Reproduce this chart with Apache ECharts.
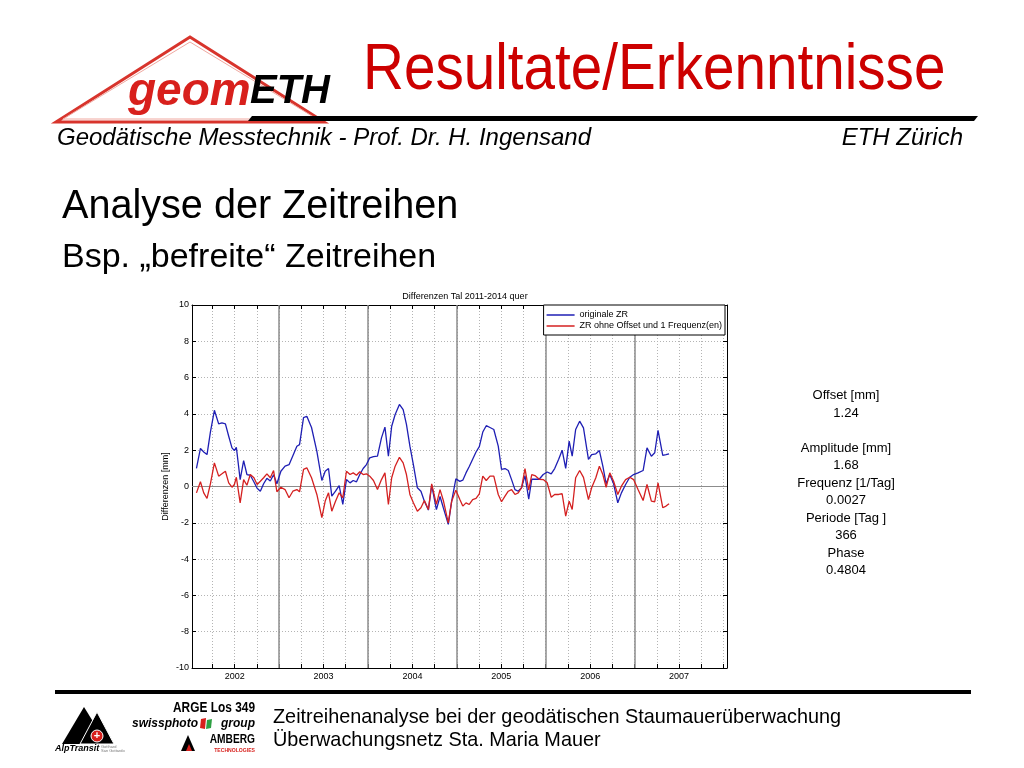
<!DOCTYPE html>
<html>
<head>
<meta charset="utf-8">
<script src="https://cdn.jsdelivr.net/npm/echarts@6/dist/echarts.min.js"></script>
<style>
html,body{margin:0;padding:0;background:#fff;}
#chart{width:1024px;height:768px;}
</style>
</head>
<body>
<div id="chart"></div>
<script>
// ---- data (decimal years) ----
const years = [
2001.570,2001.615,2001.652,2001.689,2001.727,2001.772,2001.820,2001.857,2001.896,2001.933,
2001.970,2001.997,2002.019,2002.062,2002.101,2002.138,2002.176,2002.217,2002.253,2002.289,
2002.326,2002.363,2002.401,2002.438,2002.475,2002.520,2002.567,2002.612,2002.655,2002.700,
2002.730,2002.775,2002.812,2002.865,2002.925,2002.981,2003.019,2003.056,2003.093,2003.135,
2003.176,2003.217,2003.258,2003.298,2003.334,2003.371,2003.408,2003.446,2003.483,2003.520,
2003.562,2003.607,2003.652,2003.691,2003.730,2003.767,2003.806,2003.854,2003.896,2003.933,
2003.972,2004.011,2004.056,2004.096,2004.135,2004.180,2004.217,2004.270,2004.311,2004.348,
2004.404,2004.442,2004.489,2004.534,2004.567,2004.603,2004.640,2004.678,2004.716,2004.753,
2004.792,2004.831,2004.873,2004.916,2004.966,2005.003,2005.042,2005.079,2005.116,2005.154,
2005.191,2005.228,2005.267,2005.309,2005.343,2005.379,2005.427,2005.472,2005.517,2005.562,
2005.601,2005.646,2005.685,2005.725,2005.764,2005.798,2005.837,2005.882,2005.925,2005.981,
2006.017,2006.064,2006.104,2006.143,2006.180,2006.221,2006.264,2006.311,2006.352,2006.399,
2006.446,2006.489,2006.539,2006.596,2006.640,2006.689,2006.727,2006.764,2006.817,2006.854,
2006.888
];
const originalZR = [
1.0,2.1,1.9,1.76,3.0,4.2,3.45,3.5,3.45,2.77,
2.13,1.98,2.16,0.38,1.43,0.66,0.62,0.25,-0.1,-0.26,
0.15,0.45,0.3,0.65,0.15,0.84,1.12,1.2,1.7,2.22,
2.31,3.79,3.87,3.25,1.94,0.33,0.84,0.99,-0.53,-0.26,
0.05,-0.99,0.38,0.2,0.33,0.26,0.66,0.99,1.21,1.58,
1.65,1.67,2.68,3.27,1.67,3.32,3.97,4.52,4.24,3.42,
2.22,1.21,-0.07,-0.26,-0.81,-1.3,0.07,-1.27,-0.55,-1.17,
-2.09,-0.81,0.42,0.28,0.35,0.75,1.1,1.5,1.9,2.2,
3.0,3.35,3.25,3.14,2.22,0.94,0.99,0.88,0.38,-0.17,
-0.26,-0.07,0.6,-0.7,0.4,0.4,0.4,0.66,0.8,0.7,
0.99,1.5,2.0,1.0,2.5,1.67,3.14,3.6,3.23,1.49,
1.76,1.8,1.98,1.12,0.15,0.66,0.15,-0.9,-0.35,0.11,
0.51,0.66,0.75,0.88,2.13,1.67,1.86,3.09,1.72,1.76,
1.8
];
const residualZR = [
-0.35,0.26,-0.35,-0.66,0.15,1.3,0.57,0.7,0.84,0.2,
-0.04,0.11,0.51,-0.9,0.38,0.07,0.66,0.48,0.11,0.29,
0.48,0.7,0.48,0.88,-0.29,-0.04,-0.17,-0.62,-0.26,-0.17,
-0.29,0.94,1.03,0.48,-0.44,-1.72,-0.8,-0.35,-1.36,-0.81,
-0.35,-0.62,0.84,0.66,0.75,0.62,0.81,0.66,0.7,0.57,
0.33,-0.17,0.38,0.75,-0.99,0.48,1.12,1.61,1.3,0.66,
-0.44,-0.9,-1.36,-1.17,-0.77,-1.27,0.15,-0.99,-0.17,-0.77,
-2.0,-0.81,-0.2,-0.72,-1.08,-0.9,-0.99,-0.72,-0.66,-0.4,
0.57,0.33,0.57,0.57,-0.44,-0.84,-0.53,-0.26,-0.17,-0.44,
-0.35,-0.07,0.99,-0.2,0.66,0.6,0.4,0.38,0.2,-0.59,
-0.44,-0.44,-0.4,-1.63,-0.81,-1.27,0.48,0.88,0.5,-0.72,
-0.07,0.48,1.12,0.66,-0.04,0.75,0.29,-0.44,0.02,0.38,
0.51,0.38,-0.17,-0.77,0.11,-0.81,-0.84,0.2,-1.17,-1.08,
-0.95
];
const yearLabels = [2002, 2003, 2004, 2005, 2006, 2007];
const quarterTicks = [2001.75,2002,2002.25,2002.5,2002.75,2003,2003.25,2003.5,2003.75,2004,2004.25,2004.5,2004.75,
  2005,2005.25,2005.5,2005.75,2006,2006.25,2006.5,2006.75,2007,2007.25,2007.5];
const markerYears = [2002.5, 2003.5, 2004.5, 2005.5, 2006.5];
const seriesNames = ['originale ZR', 'ZR ohne Offset und 1 Frequenz(en)'];
const statsLines = ['Offset [mm]', '1.24', '', 'Amplitude [mm]', '1.68', 'Frequenz [1/Tag]', '0.0027',
  'Periode [Tag ]', '366', 'Phase', '0.4804'];

const FONT = 'Liberation Sans';
const chart = echarts.init(document.getElementById('chart'));

const pairs = (xs, ys) => xs.map((x, i) => [x, ys[i]]);
const gridLine = { show: true, lineStyle: { color: '#b4b4b4', type: [1, 2], width: 1 } };
const frameLine = { show: true, onZero: false, lineStyle: { color: '#000', width: 1 } };

const option = {
  animation: false,
  backgroundColor: '#ffffff',
  textStyle: { fontFamily: FONT },
  title: [{
    text: 'Differenzen Tal 2011-2014 quer',
    left: 460, top: 287, textAlign: 'center',
    textStyle: { fontSize: 9, fontWeight: 'normal', color: '#000', fontFamily: FONT }
  }],
  grid: { left: 192, right: 297, top: 305, bottom: 100, containLabel: false },
  legend: {
    right: 299, top: 305, orient: 'vertical',
    backgroundColor: '#fff', borderColor: '#000', borderWidth: 1,
    padding: [5, 3, 4, 3], itemGap: 1,
    itemWidth: 28, itemHeight: 1.5, icon: 'rect',
    textStyle: { fontSize: 9, color: '#000', lineHeight: 10, fontFamily: FONT },
    data: seriesNames
  },
  xAxis: [{
    type: 'value', min: 2001.52, max: 2007.54, position: 'bottom',
    axisLine: frameLine,
    axisTick: { show: true, inside: true, length: 4, customValues: quarterTicks, lineStyle: { color: '#000' } },
    axisLabel: { show: true, customValues: yearLabels, margin: 4, fontSize: 9, color: '#000',
      formatter: v => String(Math.round(v)) },
    splitLine: gridLine
  }, {
    type: 'value', min: 2001.52, max: 2007.54, position: 'top',
    axisLine: frameLine,
    axisTick: { show: true, inside: true, length: 4, customValues: quarterTicks, lineStyle: { color: '#000' } },
    axisLabel: { show: false }, splitLine: { show: false }
  }],
  yAxis: [{
    type: 'value', min: -10, max: 10, interval: 2, position: 'left',
    name: 'Differenzen [mm]', nameLocation: 'middle', nameGap: 22, nameRotate: 90,
    nameMoveOverlap: false,
    nameTextStyle: { fontSize: 9, color: '#000' },
    axisLine: frameLine,
    axisTick: { show: true, inside: true, length: 4, lineStyle: { color: '#000' } },
    axisLabel: { fontSize: 9, color: '#000', margin: 3 },
    splitLine: gridLine
  }, {
    type: 'value', min: -10, max: 10, interval: 2, position: 'right',
    axisLine: frameLine,
    axisTick: { show: true, inside: true, length: 4, lineStyle: { color: '#000' } },
    axisLabel: { show: false }, splitLine: { show: false }
  }],
  series: [{
    name: seriesNames[0], type: 'line', xAxisIndex: 0, yAxisIndex: 0,
    data: pairs(years, originalZR), showSymbol: false, symbol: 'none',
    lineStyle: { color: '#1f1fb4', width: 1.3 }, itemStyle: { color: '#1f1fb4' },
    z: 3,
    markLine: {
      silent: true, symbol: 'none', label: { show: false }, z: 1,
      data: [
        ...markerYears.map(v => ({ xAxis: v, lineStyle: { color: '#8c8c8c', width: 1.5, type: 'solid' } })),
        { yAxis: 0, lineStyle: { color: '#8c8c8c', width: 1.2, type: 'solid' } }
      ]
    }
  }, {
    name: seriesNames[1], type: 'line', xAxisIndex: 0, yAxisIndex: 0,
    data: pairs(years, residualZR), showSymbol: false, symbol: 'none',
    lineStyle: { color: '#d42020', width: 1.3 }, itemStyle: { color: '#d42020' },
    z: 4
  }],
  graphic: [
    // header logo triangle
    { type: 'polygon', shape: { points: [[56,122],[190,37],[324,122]] },
      style: { fill: 'none', stroke: '#d8342c', lineWidth: 3 }, z: 1 },
    { type: 'polygon', shape: { points: [[63,119],[190,42],[317,119]] },
      style: { fill: 'none', stroke: '#f0a8a0', lineWidth: 1 }, z: 1 },
    { type: 'text', x: 128, y: 92, z: 3, style: { text: 'geom', font: 'italic bold 46px "Liberation Sans"',
      fill: '#d8201c', textVerticalAlign: 'middle' } },
    { type: 'text', x: 250, y: 92, z: 3, style: { text: 'ETH', font: 'italic bold 40px "Liberation Sans"',
      fill: '#000', textVerticalAlign: 'middle' } },
    // header black bar
    { type: 'polygon', shape: { points: [[248,121],[252,116],[978,116],[974,121]] },
      style: { fill: '#000' }, z: 2 },
    // slide title
    { type: 'text', x: 363, y: 71, scaleX: 0.885, z: 3, style: { text: 'Resultate/Erkenntnisse',
      font: '64px "Liberation Sans"', fill: '#cc0000', textVerticalAlign: 'middle' } },
    { type: 'text', x: 57, y: 138, z: 3, style: { text: 'Geodätische Messtechnik - Prof. Dr. H. Ingensand',
      font: 'italic 24px "Liberation Sans"', fill: '#000', textVerticalAlign: 'middle' } },
    { type: 'text', x: 963, y: 138, z: 3, style: { text: 'ETH Zürich',
      font: 'italic 24px "Liberation Sans"', fill: '#000', textAlign: 'right', textVerticalAlign: 'middle' } },
    { type: 'text', x: 62, y: 207, z: 3, style: { text: 'Analyse der Zeitreihen',
      font: '40px "Liberation Sans"', fill: '#000', textVerticalAlign: 'middle' }, scaleX: 0.99 },
    { type: 'text', x: 62, y: 258, z: 3, style: { text: 'Bsp. „befreite“ Zeitreihen',
      font: '34px "Liberation Sans"', fill: '#000', textVerticalAlign: 'middle' } },
    // stats block
    { type: 'text', x: 846, y: 387, z: 3, style: { text: statsLines.join('\n'),
      font: '13px "Liberation Sans"', lineHeight: 17.5, fill: '#000', textAlign: 'center' } },
    // footer bar
    { type: 'rect', shape: { x: 55, y: 690, width: 916, height: 4 }, style: { fill: '#000' }, z: 2 },
    { type: 'text', x: 273, y: 717, z: 3, style: { text: 'Zeitreihenanalyse bei der geodätischen Staumauerüberwachung',
      font: '21px "Liberation Sans"', fill: '#000', textVerticalAlign: 'middle' }, scaleX: 0.945 },
    { type: 'text', x: 273, y: 740, z: 3, style: { text: 'Überwachungsnetz Sta. Maria Mauer',
      font: '21px "Liberation Sans"', fill: '#000', textVerticalAlign: 'middle' }, scaleX: 0.945 },
    // AlpTransit logo
    { type: 'polygon', shape: { points: [[62,744],[84,707],[102,736],[96,744]] }, style: { fill: '#000' }, z: 2 },
    { type: 'polygon', shape: { points: [[80,744],[97,712],[114,744]] }, style: { fill: '#000' }, z: 2 },
    { type: 'polygon', shape: { points: [[80,744],[97,712],[114,744]] }, style: { fill: 'none', stroke: '#fff', lineWidth: 1 }, z: 2 },
    { type: 'circle', shape: { cx: 97, cy: 736, r: 6 }, style: { fill: '#d8201c', stroke: '#fff', lineWidth: 1 }, z: 3 },
    { type: 'text', x: 97, y: 736, z: 4, style: { text: '+', font: 'bold 11px "Liberation Sans"', fill: '#fff',
      textAlign: 'center', textVerticalAlign: 'middle' } },
    { type: 'text', x: 55, y: 749, z: 3, style: { text: 'AlpTransit', font: 'italic bold 9px "Liberation Sans"', fill: '#000',
      textVerticalAlign: 'middle' } },
    { type: 'text', x: 101, y: 749, z: 3, style: { text: 'Gotthard\nSan Gottardo', font: '4px "Liberation Sans"', fill: '#777',
      lineHeight: 4, textVerticalAlign: 'middle' } },
    // ARGE / swissphoto / AMBERG
    { type: 'text', x: 255, y: 708, z: 3, scaleX: 0.85, style: { text: 'ARGE Los 349', font: 'bold 14px "Liberation Sans"', fill: '#000',
      textAlign: 'right', textVerticalAlign: 'middle' } },
    { type: 'text', x: 198, y: 724, z: 3, style: { text: 'swissphoto', font: 'italic bold 12px "Liberation Sans"', fill: '#000',
      textAlign: 'right', textVerticalAlign: 'middle' } },
    { type: 'polygon', shape: { points: [[201,719],[206,718],[205,729],[200,728]] }, style: { fill: '#d8201c' }, z: 3 },
    { type: 'polygon', shape: { points: [[207,720],[212,719],[211,728],[206,729]] }, style: { fill: '#2ea043' }, z: 3 },
    { type: 'text', x: 255, y: 724, z: 3, style: { text: 'group', font: 'italic bold 12px "Liberation Sans"', fill: '#000',
      textAlign: 'right', textVerticalAlign: 'middle' } },
    { type: 'polygon', shape: { points: [[181,751],[188,735],[195,751]] }, style: { fill: '#000' }, z: 3 },
    { type: 'polygon', shape: { points: [[186,751],[189,744],[192,751]] }, style: { fill: '#d8201c' }, z: 3 },
    { type: 'text', x: 255, y: 740, z: 3, scaleX: 0.85, style: { text: 'AMBERG', font: 'bold 12px "Liberation Sans"', fill: '#000',
      textAlign: 'right', textVerticalAlign: 'middle' } },
    { type: 'text', x: 255, y: 750, z: 3, scaleX: 0.85, style: { text: 'TECHNOLOGIES', font: 'bold 6px "Liberation Sans"', fill: '#d8201c',
      textAlign: 'right', textVerticalAlign: 'middle' } }
  ]
};
chart.setOption(option);
</script>
</body>
</html>
